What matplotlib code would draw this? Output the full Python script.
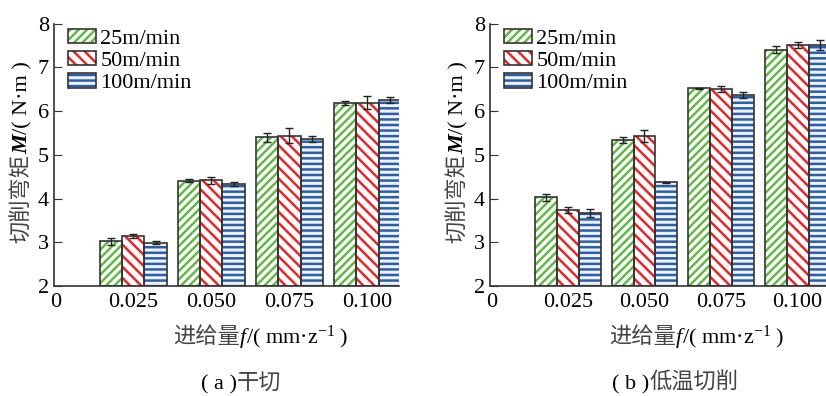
import numpy as np
import matplotlib.pyplot as plt
from matplotlib.patches import Patch
from matplotlib.legend_handler import HandlerTuple

plt.rcParams['font.family'] = ['Liberation Serif', 'Noto Sans CJK SC']
plt.rcParams['mathtext.fontset'] = 'custom'
plt.rcParams['mathtext.rm'] = 'Liberation Serif'
plt.rcParams['mathtext.it'] = 'Liberation Serif:italic'
plt.rcParams['hatch.linewidth'] = 1.8

feeds = ["0", "0.025", "0.050", "0.075", "0.100"]
speeds = ["25m/min", "50m/min", "100m/min"]

# (a) dry cutting
dry_25 = [3.02, 4.41, 5.40, 6.19]
dry_50 = [3.14, 4.42, 5.44, 6.19]
dry_100 = [2.99, 4.33, 5.36, 6.25]
dry_25_err = [0.08, 0.04, 0.10, 0.05]
dry_50_err = [0.04, 0.08, 0.17, 0.15]
dry_100_err = [0.04, 0.05, 0.07, 0.07]

# (b) cryogenic cutting
cryo_25 = [4.03, 5.34, 6.52, 7.41]
cryo_50 = [3.74, 5.43, 6.51, 7.51]
cryo_100 = [3.67, 4.37, 6.36, 7.51]
cryo_25_err = [0.08, 0.06, 0.02, 0.09]
cryo_50_err = [0.07, 0.13, 0.07, 0.07]
cryo_100_err = [0.09, 0.01, 0.07, 0.12]

colors = ["#63b946", "#e8262a", "#2b5daa"]
faces = ["white", "white", "#eef2f9"]
hatches = ["////", "\\\\\\", "---"]
edge = "#333333"

CJK = ['Noto Sans CJK SC', 'DejaVu Sans']
SERIF = ['Liberation Serif', 'Noto Sans CJK SC']

ylabel_parts = [("切削弯矩", dict(family=CJK, color="#444444")),
                ("M", dict(family=SERIF, weight="bold", style="italic")),
                ("/( N·m )", dict(family=SERIF))]
xlabel_parts = [("进给量", dict(family=CJK, color="#444444")),
                ("f", dict(family=SERIF, style="italic")),
                (r"/( mm·z$^{-1}$ )", dict(family=SERIF))]

fig = plt.figure(figsize=(8.26, 3.96), dpi=100)
ax1 = fig.add_axes([0.065, 0.278, 0.4175, 0.662])
ax2 = fig.add_axes([0.593, 0.278, 0.419, 0.662])
renderer = fig.canvas.get_renderer()
W, H = fig.bbox.width, fig.bbox.height


def rich_text(xc, yc, parts, size=16, vertical=False):
    # measure each piece, then lay them out along the baseline (or upwards)
    texts, lens = [], []
    for s, kw in parts:
        t = fig.text(0, 0, s, fontsize=size, va="baseline", ha="left", **kw)
        lens.append(t.get_window_extent(renderer).width)
        texts.append(t)
    total = sum(lens)
    if vertical:
        pos = yc * H - total / 2
        for t, ln in zip(texts, lens):
            t.set_rotation(90)
            t.set_rotation_mode("anchor")
            t.set_position((xc, pos / H))
            pos += ln
    else:
        pos = xc * W - total / 2
        for t, ln in zip(texts, lens):
            t.set_position((pos / W, yc))
            pos += ln


x = np.arange(1, 5)
w = 0.287


def draw(ax, vals, errs, xmax):
    for i, (v, e) in enumerate(zip(vals, errs)):
        xs = x + (i - 1) * w
        heights = np.array(v) - 2
        ax.bar(xs, heights, w, bottom=2, color=faces[i], edgecolor=colors[i],
               hatch=hatches[i], lw=0, zorder=2)
        ax.bar(xs, heights, w, bottom=2, fill=False, edgecolor=edge, lw=1.2, zorder=3)
        ax.errorbar(xs, v, yerr=e, fmt="none", ecolor="#222222", elinewidth=1,
                    capsize=3, capthick=1, zorder=4)
    ax.set_ylim(2, 8)
    ax.set_xlim(-0.02, xmax)
    ax.set_yticks(range(2, 9))
    ax.set_xticks(range(5))
    ax.set_xticklabels(feeds)
    ax.spines[["top", "right"]].set_visible(False)
    for s in ["left", "bottom"]:
        ax.spines[s].set_color(edge)
        ax.spines[s].set_linewidth(1.2)
    ax.tick_params(axis="y", direction="in", length=6, labelsize=16, color=edge)
    ax.tick_params(axis="x", length=0, labelsize=16, pad=5)
    handles = []
    for i in range(3):
        p1 = Patch(facecolor=faces[i], edgecolor=colors[i], hatch=hatches[i], lw=0)
        p2 = Patch(fill=False, edgecolor=edge, lw=1.2)
        handles.append((p1, p2))
    ax.legend(handles, speeds, handler_map={tuple: HandlerTuple(ndivide=1, pad=0)},
              loc="upper left", bbox_to_anchor=(0.003, 1.03), frameon=False,
              fontsize=16, handlelength=1.25, handleheight=0.6,
              handletextpad=0.2, labelspacing=0.1, borderaxespad=0.2)


draw(ax1, [dry_25, dry_50, dry_100], [dry_25_err, dry_50_err, dry_100_err], 4.4)
draw(ax2, [cryo_25, cryo_50, cryo_100], [cryo_25_err, cryo_50_err, cryo_100_err], 4.5)

# axis labels and captions
rich_text(27 / W, 1 - 152 / H, ylabel_parts, vertical=True)
rich_text(463 / W, 1 - 152 / H, ylabel_parts, vertical=True)
rich_text(261 / W, 1 - 343 / H, xlabel_parts)
rich_text(697 / W, 1 - 343 / H, xlabel_parts)
rich_text(241 / W, 1 - 389 / H, [("( a )", dict(family=SERIF)),
                                 ("干切", dict(family=CJK, color="#444444"))])
rich_text(675 / W, 1 - 389 / H, [("( b )", dict(family=SERIF)),
                                 ("低温切削", dict(family=CJK, color="#444444"))])

fig.savefig("out.png", dpi=100)
